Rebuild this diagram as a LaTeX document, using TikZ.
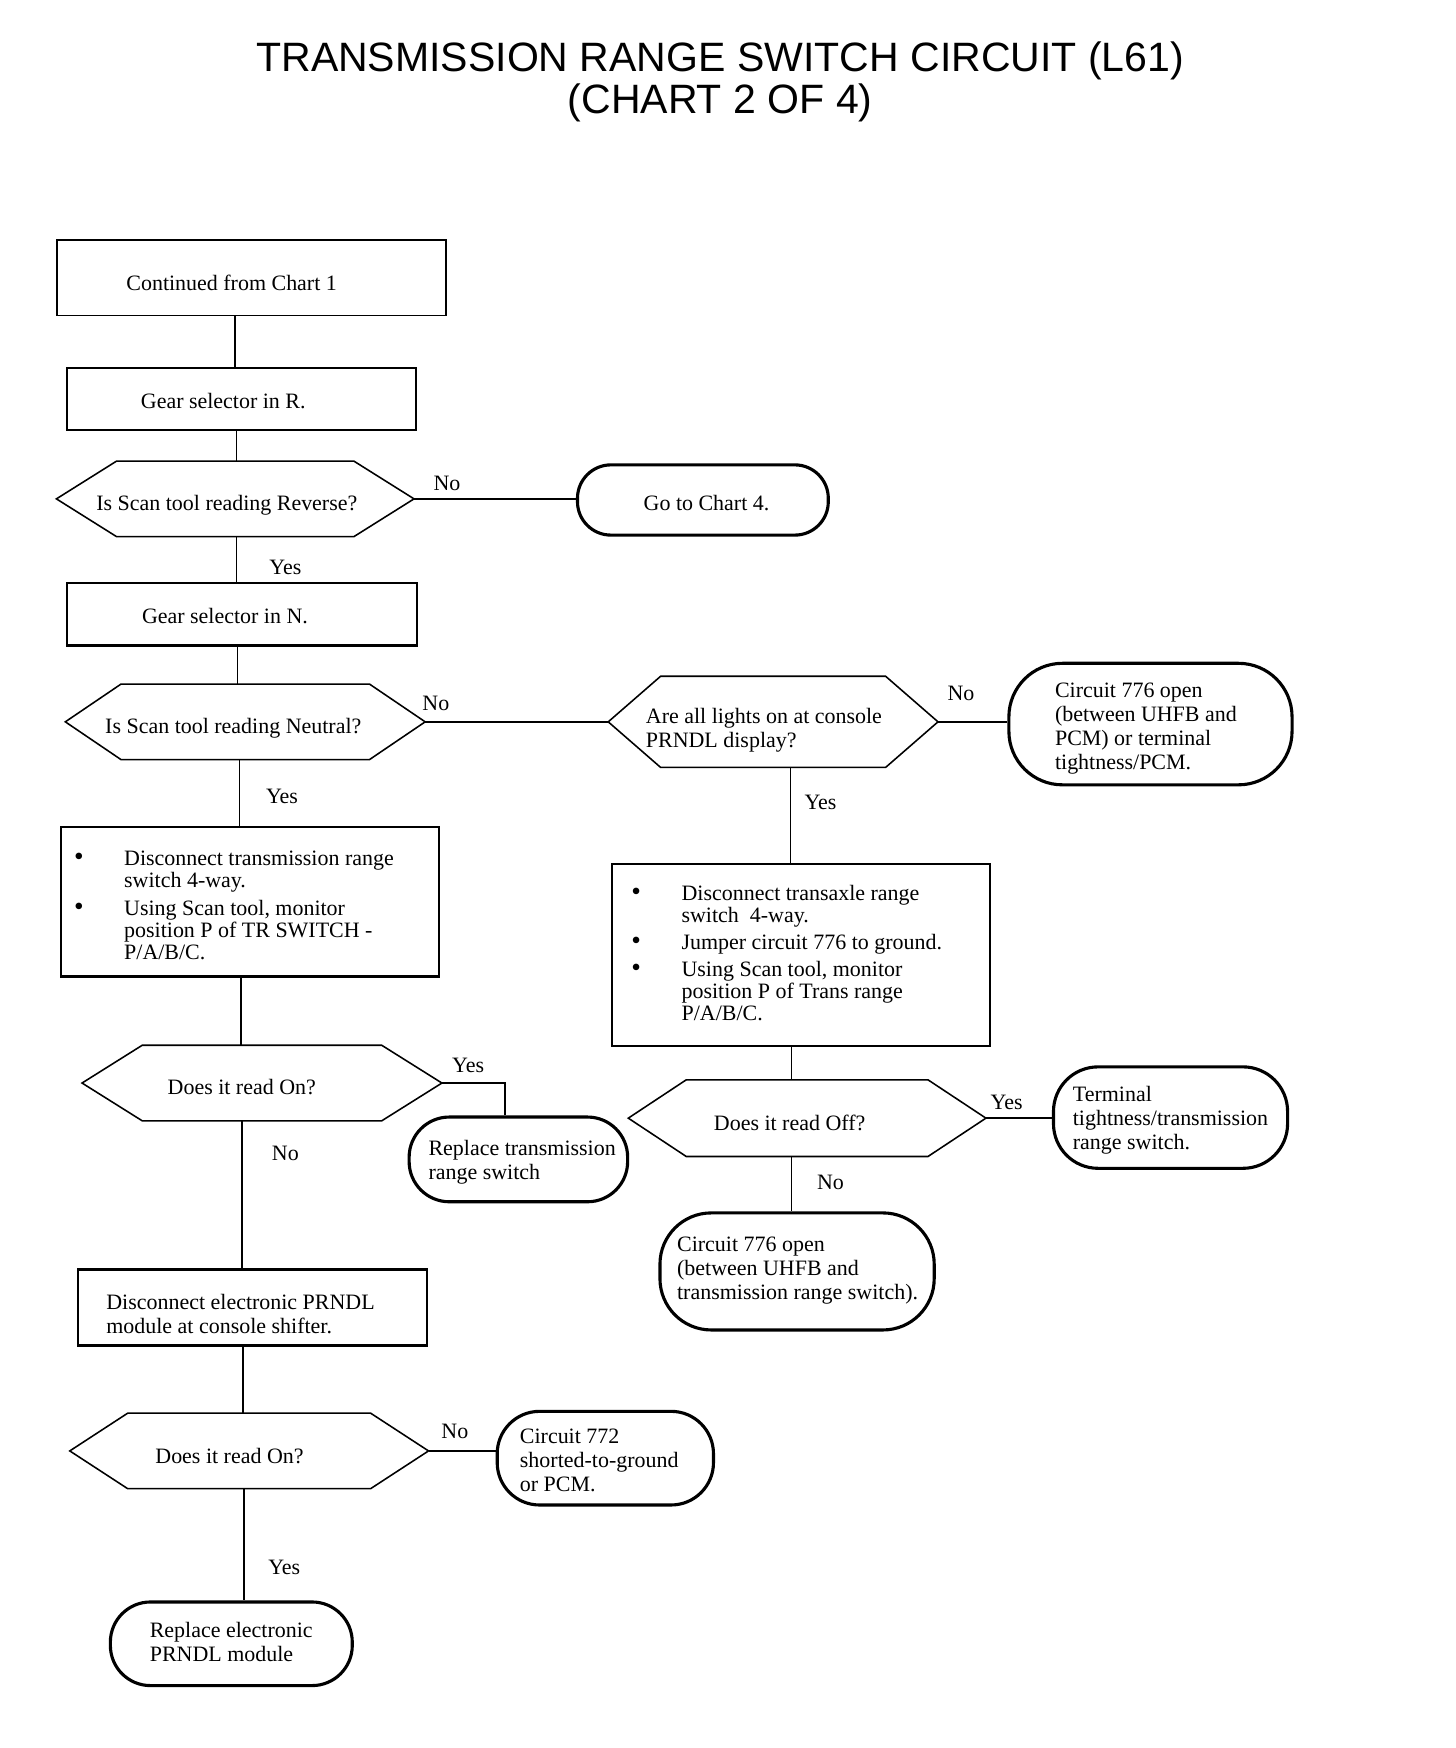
\documentclass[tikz,border=0pt]{standalone}
\usepackage{fontspec}
\setmainfont{Liberation Serif}
\newfontfamily\titlefont{Liberation Sans}
\usetikzlibrary{calc}
\newcommand{\hexdraw}[2]{\draw[hexline] (#1.west) -- ([xshift=#2]#1.north west) -- ([xshift=-#2]#1.north east) -- (#1.east) -- ([xshift=-#2]#1.south east) -- ([xshift=#2]#1.south west) -- cycle;}
\newcommand{\bul}{\makebox[22.5pt][l]{\scalebox{1.25}{\textbullet}}}
\newcommand{\txtl}[1]{\begin{tabular}[t]{@{}l@{}}#1\end{tabular}}
\newcommand{\bull}[1]{{\fontsize{9.85}{9.7}\selectfont\begin{tabular}[t]{@{}l@{}l@{}}#1\end{tabular}}}
\begin{document}
\begin{tikzpicture}[x=0.5pt,y=-0.5pt,
  every node/.style={font=\fontsize{9.85}{10.8}\selectfont},
  rectbox/.style={draw, line width=1pt, inner sep=0pt},
  hexn/.style={inner sep=0pt},
  hexline/.style={draw, line width=0.7pt, line join=miter},
  term/.style={draw, line width=1.4pt, inner sep=0pt},
  txt/.style={anchor=base west, inner sep=0pt},
  conn/.style={line width=0.7pt},
  lab/.style={inner sep=0pt}]
\fill[white] (0,0) rectangle (1306,1568);
\useasboundingbox (0,0) rectangle (1306,1568);

% title
\node[font=\titlefont\fontsize{18.4}{18.5}\selectfont, align=center] (title) at (646,73.5) {TRANSMISSION RANGE SWITCH CIRCUIT (L61)\\(CHART 2 OF 4)};

% column coordinates
\coordinate (c211) at (211,0);
\coordinate (c212) at (212,0);
\coordinate (c213) at (213,0);
\coordinate (c215) at (215,0);
\coordinate (c216) at (216,0);
\coordinate (c217) at (217,0);
\coordinate (c218) at (218,0);
\coordinate (c219) at (219,0);
\coordinate (c453) at (453,0);
\coordinate (c709) at (709,0);
\coordinate (c710) at (710,0);

% shapes
\node[rectbox, line width=0.8pt, minimum width=174.5pt, minimum height=34pt] (A) at (225.5,249) {};
\node[rectbox, minimum width=156.5pt, minimum height=28pt] (B) at (216.5,358) {};
\node[hexn, minimum width=160pt, minimum height=33.5pt] (C) at (211,447.5) {};
\hexdraw{C}{27pt}
\node[term, minimum width=112.5pt, minimum height=31.5pt, rounded corners=15pt] (D) at (630.5,448.5) {};
\node[rectbox, minimum width=157pt, minimum height=28pt] (E) at (217,551) {};
\node[hexn, minimum width=161pt, minimum height=33.5pt] (F) at (220,647.5) {};
\hexdraw{F}{25pt}
\node[hexn, minimum width=147.5pt, minimum height=40.5pt] (G) at (693.5,647.5) {};
\hexdraw{G}{23.5pt}
\node[term, minimum width=127pt, minimum height=54.5pt, rounded corners=24pt] (H) at (1032,649.5) {};
\node[rectbox, minimum width=169.5pt, minimum height=81.5pt] (I) at (718.5,856.5) {};
\node[rectbox, minimum width=169.5pt, minimum height=67pt] (M) at (224.5,809) {};
\node[hexn, minimum width=160pt, minimum height=34pt] (J) at (724,1003) {};
\hexdraw{J}{26pt}
\node[term, minimum width=105pt, minimum height=45.5pt, rounded corners=20pt] (K) at (1050,1002.5) {};
\node[term, minimum width=123pt, minimum height=52.5pt, rounded corners=23pt] (L) at (715,1140.5) {};
\node[hexn, minimum width=161pt, minimum height=33.5pt] (N) at (235,971.5) {};
\hexdraw{N}{27pt}
\node[term, minimum width=98pt, minimum height=38pt, rounded corners=18pt] (O) at (465,1040) {};
\node[rectbox, line width=1.2pt, minimum width=156.5pt, minimum height=34pt] (P) at (226.5,1173) {};
\node[hexn, minimum width=160.5pt, minimum height=33.5pt] (Q) at (223.5,1301.5) {};
\hexdraw{Q}{26pt}
\node[term, minimum width=97pt, minimum height=42pt, rounded corners=19pt] (R) at (543,1308) {};
\node[term, minimum width=108.5pt, minimum height=37.5pt, rounded corners=18pt] (S) at (207.5,1474.5) {};

% texts
\node[txt] (At) at (113,260.7) {\txtl{Continued from Chart 1}};
\node[txt] (Bt) at (126,366.7) {\txtl{Gear selector in R.}};
\node[txt] (Ct) at (86,457.7) {\txtl{Is Scan tool reading Reverse?}};
\node[txt] (Dt) at (577,457.7) {\txtl{Go to Chart 4.}};
\node[txt] (Et) at (127,559.7) {\txtl{Gear selector in N.}};
\node[txt] (Ft) at (94,657.7) {\txtl{Is Scan tool reading Neutral?}};
\node[txt] (Gt) at (579,648.7) {\txtl{Are all lights on at console\\PRNDL display?}};
\node[txt] (Ht) at (946,625.7) {\txtl{Circuit 776 open\\(between UHFB and\\PCM) or terminal\\tightness/PCM.}};
\node[txt] (Mt) at (66,776.7) {\bull{
\bul & Disconnect transmission range\\
 & switch 4-way.\\[2.8pt]
\bul & Using Scan tool, monitor\\
 & position P of TR SWITCH -\\
 & P/A/B/C.}};
\node[txt] (It) at (566,807.7) {\bull{
\bul & Disconnect transaxle range\\
 & switch\ \ 4-way.\\[2.3pt]
\bul & Jumper circuit 776 to ground.\\[2.8pt]
\bul & Using Scan tool, monitor\\
 & position P of Trans range\\
 & P/A/B/C.}};
\node[txt] (Nt) at (150,981.7) {\txtl{Does it read On?}};
\node[txt] (Jt) at (640,1013.7) {\txtl{Does it read Off?}};
\node[txt] (Kt) at (962,987.7) {\txtl{Terminal\\tightness/transmission\\range switch.}};
\node[txt] (Lt) at (607,1122.7) {\txtl{Circuit 776 open\\(between UHFB and\\transmission range switch).}};
\node[txt] (Ot) at (384,1036.7) {\txtl{Replace transmission\\range switch}};
\node[txt] (Pt) at (95,1174.7) {\txtl{Disconnect electronic PRNDL\\module at console shifter.}};
\node[txt] (Qt) at (139,1312.7) {\txtl{Does it read On?}};
\node[txt] (Rt) at (466,1294.7) {\txtl{Circuit 772\\shorted-to-ground\\or PCM.}};
\node[txt] (St) at (134,1468.7) {\txtl{Replace electronic\\PRNDL module}};

% connectors
\draw[conn] (A.south -| c211) -- (B.north -| c211);
\draw[conn] (B.south -| c212) -- (C.north -| c212);
\draw[conn] (C.east) -- (C.east -| D.west);
\draw[conn] (C.south -| c212) -- (E.north -| c212);
\draw[conn] (E.south -| c213) -- (F.north -| c213);
\draw[conn] (F.east) -- (G.west);
\draw[conn] (G.east) -- (G.east -| H.west);
\draw[conn] (G.south -| c709) -- (I.north -| c709);
\draw[conn] (F.south -| c215) -- (M.north -| c215);
\draw[conn] (M.south -| c216) -- (N.north -| c216);
\draw[conn] (I.south -| c710) -- (J.north -| c710);
\draw[conn] (J.east) -- (J.east -| K.west);
\draw[conn] (J.south -| c710) -- (L.north -| c710);
\draw[conn] (N.east) -| (O.north -| c453);
\draw[conn] (N.south -| c217) -- (P.north -| c217);
\draw[conn] (P.south -| c218) -- (Q.north -| c218);
\draw[conn] (Q.east) -- (Q.east -| R.west);
\draw[conn] (Q.south -| c219) -- (S.north -| c219);

% labels
\node[lab] (l1) at (401,434) {No};
\node[lab] (l2) at (256,509) {Yes};
\node[lab] (l3) at (391,631) {No};
\node[lab] (l4) at (862,622) {No};
\node[lab] (l5) at (736,720) {Yes};
\node[lab] (l6) at (253,714) {Yes};
\node[lab] (l7) at (420,956) {Yes};
\node[lab] (l8) at (256,1035) {No};
\node[lab] (l9) at (903,989) {Yes};
\node[lab] (l10) at (745,1061) {No};
\node[lab] (l11) at (408,1284) {No};
\node[lab] (l12) at (255,1406) {Yes};
\end{tikzpicture}
\end{document}
